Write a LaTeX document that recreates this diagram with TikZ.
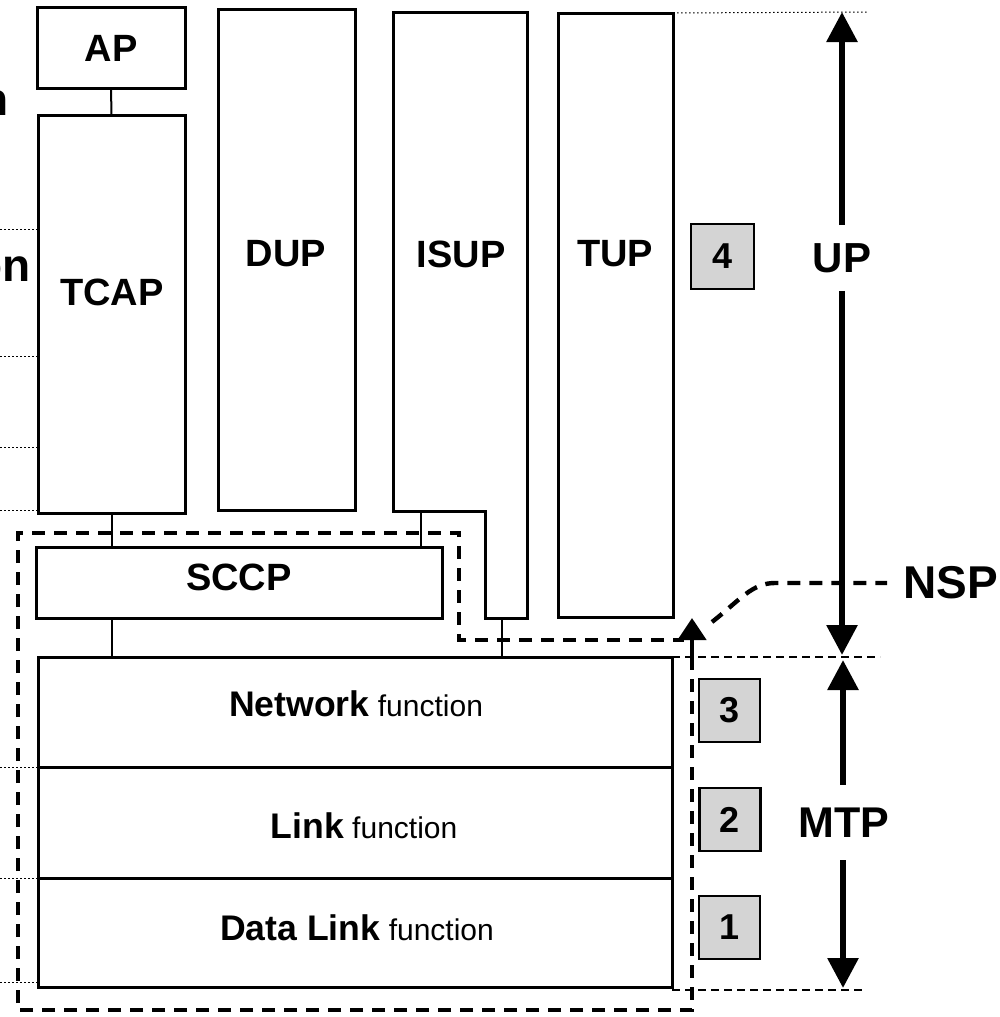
\documentclass[tikz,border=0pt]{standalone}
\usepackage{fontspec}
\setmainfont{Liberation Sans}
\usetikzlibrary{arrows.meta,calc}

\begin{document}
\begin{tikzpicture}[x=0.5pt,y=-0.5pt,
  box/.style={draw, line width=1.5pt, inner sep=0pt, outer sep=0pt},
  numbox/.style={draw, line width=1.4pt, fill=black!17, inner sep=0pt,
    font=\fontsize{18}{18}\selectfont\bfseries},
  lbl/.style={inner sep=0pt, font=\fontsize{19}{20}\selectfont\bfseries},
  side/.style={inner sep=0pt, font=\fontsize{23}{24}\selectfont\bfseries},
  fn/.style={inner sep=0pt, font=\fontsize{15}{17}\selectfont},
  link/.style={line width=1pt},
  nspline/.style={line width=2.2pt, dash pattern=on 6.5pt off 4.5pt},
  guide/.style={line width=0.8pt, dash pattern=on 4pt off 2.5pt},
  dotline/.style={line width=0.5pt, dash pattern=on 0.8pt off 1.2pt},
  bigarrow/.style={line width=3pt, -{Triangle[length=15pt,width=15pt]}},
]
\newcommand\fnbold[1]{\textbf{\fontsize{17.8}{18}\selectfont #1}}
\useasboundingbox (0,0) rectangle (1000,1017);
\clip (0,0) rectangle (1000,1017);

% level labels running in from the left
\node[side, anchor=base east] (lvlA) at (9,115) {n};
\node[side, anchor=base east] (lvlB) at (31,281) {on};

% user parts
\node[box, minimum width=74pt, minimum height=40.5pt] (ap) at (111,47.5) {};
\node[box, minimum width=73.5pt, minimum height=199pt] (tcap) at (111.5,314) {};
\node[box, minimum width=68.5pt, minimum height=250.5pt] (dup) at (286.5,259.5) {};
\draw[line width=1.5pt] (393,12) -- (527,12) -- (527,618) -- (485,618)
  -- (485,511) -- (393,511) -- cycle;
\node[box, minimum width=57.5pt, minimum height=302pt] (tup) at (615.5,315) {};
\coordinate (isupA) at (421,511);
\coordinate (isupB) at (502,618);

\node[lbl] (apT) at (111,48) {AP};
\node[lbl] (tcapT) at (112,292) {TCAP};
\node[lbl] (dupT) at (286,254) {DUP};
\node[lbl] (isupT) at (461,254) {ISUP};
\node[lbl] (tupT) at (615,254) {TUP};

% SCCP and the three MTP levels
\node[box, minimum width=203pt, minimum height=35.5pt] (sccp) at (239,582.5) {};
\node[lbl] (sccpT) at (239,577) {SCCP};
\node[box, minimum width=317pt, minimum height=55pt] (net) at (355,712) {};
\node[box, minimum width=317pt, minimum height=55.5pt] (lnk) at (355,822.5) {};
\node[box, minimum width=317pt, minimum height=54.5pt] (dat) at (355,932.5) {};
\node[fn] (netT) at (356,704) {\fnbold{Network} function};
\node[fn] (lnkT) at (364,826) {\fnbold{Link} function};
\node[fn] (datT) at (357,928) {\fnbold{Data Link} function};

% connections between the parts
\draw[link] (ap.south) -- (tcap.north);
\draw[link] (tcap.south) -- (tcap.south |- sccp.north);
\draw[link] ($(dup.south)+(5,0)$) -- ($(dup.south)+(5,0)$ |- sccp.north);
\draw[link] (isupA) -- (isupA |- sccp.north);
\draw[link] (sccp.south -| tcap.south) -- (tcap.south |- net.north);
\draw[link] (isupB) -- (isupB |- net.north);
\draw[link] ($(tup.south)+(1.5,0)$) -- ($(tup.south)+(1.5,0)$ |- net.north);

% dotted level guides on the left
\foreach \yy in {229,356,447,510} {
  \draw[dotline] (0,\yy) -- (tcap.west |- 0,\yy);
}
\foreach \yy in {767,878,982} {
  \draw[dotline] (0,\yy) -- (net.west |- 0,\yy);
}

% level numbers
\node[numbox, minimum width=31.5pt, minimum height=32.5pt] (n4) at (722.5,256.5) {4};
\node[numbox, minimum width=30.5pt, minimum height=31.5pt] (n3) at (729.5,710.5) {3};
\node[numbox, minimum width=30.5pt, minimum height=31.5pt] (n2) at (730,819.5) {2};
\node[numbox, minimum width=30.5pt, minimum height=31.5pt] (n1) at (729.5,927.5) {1};

% NSP boundary
\draw[nspline] (692,657) -- (692,1010) -- (18,1010) -- (18,533) -- (459,533)
  -- (459,640) -- (684,640);
\coordinate (nspFoot) at (692,660);
\coordinate (nspHead) at (692,618);
\draw[line width=2.2pt, -{Triangle[length=11pt,width=14pt]}] (nspFoot) -- (nspHead);

% range guides on the right
\coordinate (topEnd) at (868,12);
\coordinate (midEnd) at (880,657);
\coordinate (botEnd) at (862,990);
\draw[dotline] (tup.north east) -- (topEnd);
\draw[guide] (net.north east) -- (midEnd);
\draw[guide] (dat.south east |- botEnd) -- (botEnd);

% UP and MTP ranges
\node[side, font=\fontsize{21}{22}\selectfont\bfseries, minimum height=32.5pt] (upL) at (842,258) {UP};
\node[side, font=\fontsize{21.5}{22}\selectfont\bfseries, minimum height=37.5pt] (mtpL) at (844,822.5) {MTP};
\coordinate (upTop) at (842,12);
\coordinate (upBot) at (842,655);
\coordinate (mtpTop) at (843,660);
\coordinate (mtpBot) at (843,988);
\draw[bigarrow] (upL.north) -- (upTop);
\draw[bigarrow] (upL.south) -- (upBot);
\draw[bigarrow] (mtpL.north -| mtpTop) -- (mtpTop);
\draw[bigarrow] (mtpL.south -| mtpBot) -- (mtpBot);

% NSP label and its leader
\node[side, inner xsep=8pt, anchor=west] (nspL) at (887,583) {NSP};
\coordinate (nspStart) at (712,622);
\draw[nspline] (nspStart) .. controls (740,600) and (752,583) .. (775,583) -- (nspL.west);
\end{tikzpicture}
\end{document}
